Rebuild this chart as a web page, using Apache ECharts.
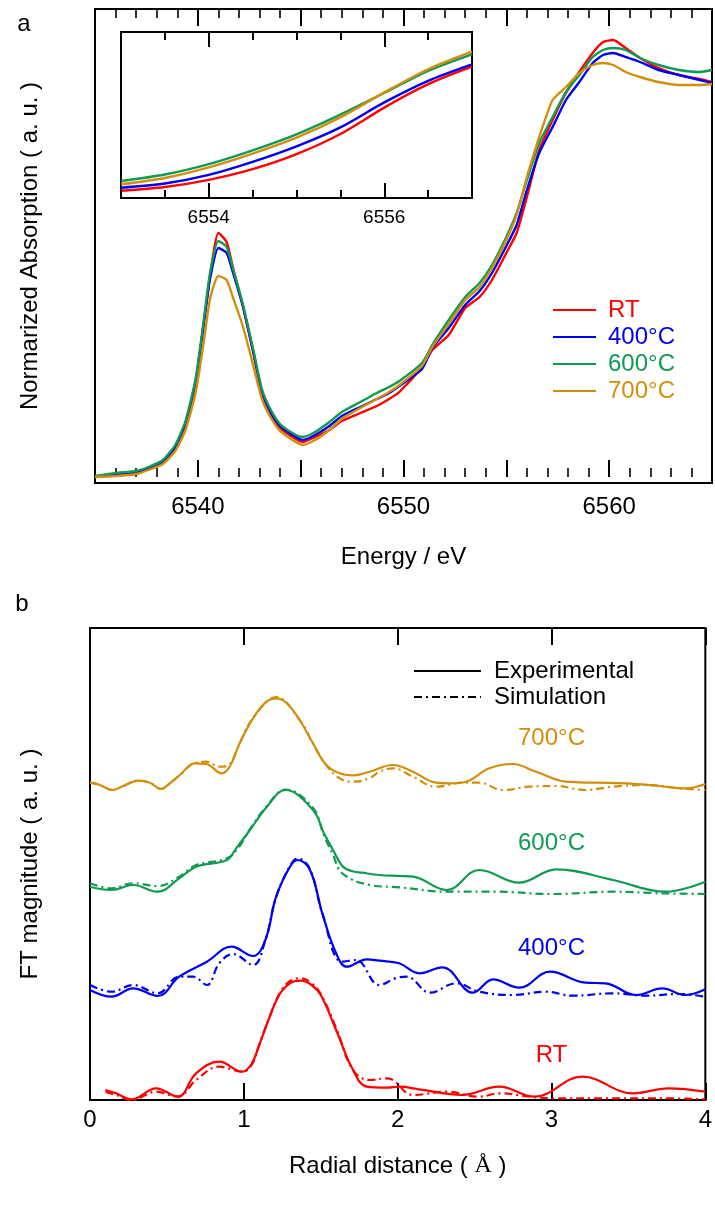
<!DOCTYPE html>
<html>
<head>
<meta charset="utf-8">
<script src="https://cdn.jsdelivr.net/npm/echarts@6/dist/echarts.min.js"></script>
<style>
  html, body { margin: 0; padding: 0; background: #fff; }
  #chart { width: 715px; height: 1207px; }
</style>
</head>
<body>
<div id="chart"></div>
<script>
// ---- Panel a: XANES spectra (normalized absorption vs. energy) ----
const TEMPS = ['RT', '400°C', '600°C', '700°C'];
const COLORS = ['#ff0000', '#0000f0', '#109a52', '#d28e0c'];

const energy = [6535, 6536, 6537, 6537.6, 6538.3, 6538.9, 6539.4, 6539.9, 6540.3, 6540.6,
  6541.0, 6541.4, 6541.7, 6542.2, 6542.7, 6543.1, 6543.5, 6544.0, 6544.6, 6545.1,
  6545.7, 6546.4, 6547.0, 6547.9, 6548.7, 6549.3, 6549.8, 6550.9, 6551.4, 6552.2,
  6553.0, 6553.7, 6554.3, 6555.0, 6555.5, 6556.0, 6556.6, 6557.25, 6557.9, 6558.55,
  6559.2, 6559.7, 6560.2, 6560.8, 6561.5, 6562.4, 6563.4, 6564.4, 6565];

const xanesRT = [0, 0.005, 0.0075, 0.02, 0.035, 0.0725, 0.13, 0.2375, 0.3875, 0.505,
  0.61, 0.5875, 0.525, 0.425, 0.31, 0.21, 0.16, 0.1225, 0.10, 0.0875,
  0.10, 0.1175, 0.14, 0.16, 0.1775, 0.195, 0.2125, 0.275, 0.3175, 0.355,
  0.4225, 0.45, 0.4925, 0.56, 0.61, 0.70, 0.8175, 0.8925, 0.96, 1.0125,
  1.06, 1.0875, 1.0925, 1.0725, 1.0475, 1.0225, 1.005, 0.995, 0.9875];
const xanes400 = [0, 0.0075, 0.0125, 0.0225, 0.0375, 0.075, 0.135, 0.2425, 0.3875, 0.4975,
  0.5725, 0.56, 0.5125, 0.425, 0.3125, 0.2175, 0.165, 0.1275, 0.105, 0.0925,
  0.105, 0.1275, 0.1525, 0.175, 0.195, 0.21, 0.2275, 0.27, 0.3225, 0.3725,
  0.43, 0.465, 0.51, 0.5775, 0.63, 0.7175, 0.81, 0.875, 0.9425, 0.9875,
  1.035, 1.055, 1.06, 1.05, 1.0375, 1.0175, 1.005, 0.9925, 0.985];
const xanes600 = [0.0025, 0.01, 0.015, 0.025, 0.0425, 0.08, 0.14, 0.2475, 0.3975, 0.5125,
  0.59, 0.575, 0.5225, 0.43, 0.3175, 0.2225, 0.1725, 0.1325, 0.11, 0.10,
  0.1125, 0.1375, 0.1625, 0.1875, 0.21, 0.225, 0.24, 0.285, 0.33, 0.3925,
  0.45, 0.485, 0.53, 0.60, 0.66, 0.7425, 0.835, 0.90, 0.9625, 1.005,
  1.05, 1.0675, 1.0725, 1.0675, 1.0475, 1.03, 1.0175, 1.0125, 1.0175];
const xanes700 = [0, 0.0025, 0.0075, 0.0175, 0.0325, 0.065, 0.1175, 0.2125, 0.3425, 0.4475,
  0.5025, 0.4925, 0.45, 0.375, 0.2775, 0.1975, 0.1525, 0.115, 0.0925, 0.08,
  0.0925, 0.1175, 0.145, 0.1725, 0.195, 0.2125, 0.23, 0.2775, 0.325, 0.3825,
  0.4425, 0.475, 0.5225, 0.5925, 0.655, 0.75, 0.85, 0.9425, 0.975, 1.01,
  1.03, 1.035, 1.03, 1.0125, 1.0, 0.9875, 0.98, 0.98, 0.9825];

// Inset: magnified view of the rising edge
const insetEnergy = [6553.0, 6553.5, 6554.0, 6554.5, 6555.0, 6555.5, 6556.0, 6556.5, 6557.0];
const insetRT  = [0.4195, 0.4344, 0.4631, 0.5062, 0.5668, 0.6483, 0.7549, 0.8493, 0.9199];
const inset400 = [0.4316, 0.4485, 0.4832, 0.5357, 0.5983, 0.6749, 0.7758, 0.8630, 0.9296];
const inset600 = [0.4586, 0.4848, 0.5268, 0.5825, 0.6471, 0.7266, 0.8138, 0.9030, 0.9700];
const inset700 = [0.4453, 0.4707, 0.5135, 0.5692, 0.6338, 0.7153, 0.8162, 0.9098, 0.9805];

// ---- Panel b: Fourier transforms, [radial distance (Å), magnitude] ----
const ftExpRT = [[0.10,0.10],[0.17,0.067],[0.27,0.007],[0.43,0.117],[0.57,0.033],[0.69,0.267],
  [0.84,0.383],[0.99,0.283],[1.05,0.36],[1.10,0.55],[1.16,0.80],[1.23,1.05],[1.30,1.167],
  [1.37,1.193],[1.44,1.15],[1.50,1.05],[1.60,0.70],[1.71,0.30],[1.80,0.133],[1.93,0.123],
  [2.01,0.133],[2.14,0.107],[2.42,0.05],[2.66,0.133],[2.89,0.033],[3.20,0.233],[3.53,0.067],
  [3.76,0.117],[4.0,0.083]];
const ftSimRT = [[0.10,0.08],[0.17,0.05],[0.27,0.0],[0.43,0.083],[0.57,0.033],[0.69,0.20],
  [0.84,0.333],[0.99,0.283],[1.05,0.35],[1.10,0.55],[1.16,0.80],[1.23,1.06],[1.30,1.19],
  [1.37,1.217],[1.44,1.17],[1.50,1.06],[1.60,0.72],[1.71,0.30],[1.82,0.20],[1.93,0.217],
  [1.97,0.20],[2.10,0.05],[2.32,0.083],[2.53,0.033],[2.66,0.067],[2.86,0.033],[3.0,0.017],
  [3.4,0.017],[3.72,0.017],[4.0,0.007]];
const ftExp400 = [[0,0.10],[0.14,0.033],[0.28,0.117],[0.44,0.04],[0.58,0.233],[0.76,0.383],
  [0.92,0.533],[1.06,0.44],[1.14,0.60],[1.21,1.033],[1.30,1.333],[1.35,1.40],[1.43,1.30],
  [1.51,0.867],[1.60,0.467],[1.67,0.333],[1.80,0.407],[1.88,0.393],[2.01,0.367],[2.14,0.267],
  [2.29,0.327],[2.49,0.073],[2.62,0.207],[2.79,0.123],[2.99,0.283],[3.22,0.173],[3.35,0.167],
  [3.55,0.05],[3.72,0.117],[3.87,0.05],[4.0,0.107]];
const ftSim400 = [[0,0.15],[0.14,0.083],[0.28,0.15],[0.44,0.067],[0.58,0.233],[0.67,0.233],
  [0.76,0.15],[0.84,0.367],[0.93,0.46],[1.06,0.35],[1.14,0.60],[1.21,1.03],[1.30,1.34],
  [1.35,1.417],[1.43,1.31],[1.51,0.87],[1.64,0.383],[1.73,0.40],[1.88,0.15],[1.99,0.22],
  [2.06,0.233],[2.21,0.073],[2.38,0.167],[2.53,0.083],[2.75,0.05],[2.96,0.083],[3.14,0.043],
  [3.40,0.067],[3.61,0.043],[3.83,0.06],[4.0,0.033]];
const ftExp600 = [[0,0.083],[0.14,0.05],[0.28,0.10],[0.44,0.033],[0.58,0.167],[0.69,0.283],
  [0.89,0.35],[0.95,0.467],[1.04,0.65],[1.15,0.883],[1.27,1.05],[1.45,0.85],[1.52,0.62],
  [1.58,0.45],[1.64,0.29],[1.70,0.24],[1.77,0.223],[1.88,0.20],[2.01,0.19],[2.10,0.183],
  [2.32,0.05],[2.53,0.25],[2.79,0.123],[3.03,0.257],[3.40,0.15],[3.74,0.033],[4.0,0.133]];
const ftSim600 = [[0,0.117],[0.14,0.067],[0.28,0.117],[0.44,0.09],[0.58,0.183],[0.69,0.30],
  [0.89,0.367],[0.97,0.483],[1.04,0.66],[1.15,0.89],[1.27,1.055],[1.45,0.87],[1.52,0.60],
  [1.58,0.40],[1.64,0.217],[1.82,0.10],[2.01,0.077],[2.32,0.033],[2.64,0.033],[3.01,0.01],
  [3.40,0.033],[3.72,0.017],[4.0,0.01]];
const ftExp700 = [[0,0.073],[0.065,0.05],[0.145,0.0],[0.216,0.04],[0.313,0.093],[0.389,0.073],
  [0.461,0.01],[0.519,0.067],[0.584,0.15],[0.681,0.267],[0.757,0.26],[0.855,0.167],[0.908,0.233],
  [0.973,0.467],[1.06,0.717],[1.147,0.883],[1.211,0.917],[1.276,0.873],[1.363,0.70],[1.449,0.467],
  [1.536,0.25],[1.622,0.167],[1.709,0.147],[1.817,0.183],[1.968,0.25],[2.098,0.183],[2.25,0.073],
  [2.336,0.067],[2.445,0.083],[2.596,0.217],[2.747,0.26],[2.899,0.183],[3.093,0.083],[3.288,0.073],
  [3.483,0.067],[3.699,0.04],[3.872,0.017],[4.0,0.06]];
const ftSim700 = [[0,0.073],[0.065,0.05],[0.145,0.0],[0.216,0.04],[0.313,0.093],[0.389,0.073],
  [0.461,0.01],[0.519,0.067],[0.584,0.15],[0.681,0.27],[0.757,0.283],[0.844,0.233],[0.908,0.26],
  [0.973,0.47],[1.06,0.72],[1.211,0.93],[1.363,0.70],[1.449,0.467],[1.536,0.25],[1.622,0.117],
  [1.709,0.083],[1.817,0.117],[1.882,0.183],[1.968,0.217],[2.098,0.133],[2.25,0.033],[2.423,0.073],
  [2.531,0.073],[2.682,0.0],[2.855,0.033],[3.03,0.04],[3.223,0.0],[3.396,0.033],[3.612,0.05],
  [3.828,0.017],[4.0,0.0]];

// vertical offset of each trace in the stacked FT plot, and where its tag sits
const ftOffset = [0, 1.0, 2.05, 3.1];
const ftTagR = 3.0;
const ftTagLift = [0.45, 0.517, 0.517, 0.517];

const xanes = [xanesRT, xanes400, xanes600, xanes700];
const insetVals = [insetRT, inset400, inset600, inset700];
const ftExp = [ftExpRT, ftExp400, ftExp600, ftExp700];
const ftSim = [ftSimRT, ftSim400, ftSim600, ftSim700];

const FONT = '"Liberation Sans", Arial, Helvetica, sans-serif';
const DASH_DOT = [8, 4, 2, 4];

const chart = echarts.init(document.getElementById('chart'), null, { renderer: 'canvas' });

const hiddenY = (grid, min, max, extra) => Object.assign({
  type: 'value', gridIndex: grid, min, max,
  axisLine: { show: false }, axisTick: { show: false }, axisLabel: { show: false },
  splitLine: { show: false }
}, extra || {});

const tickAxis = (grid, pos, min, max, interval, len, opts) => Object.assign({
  type: 'value', gridIndex: grid, position: pos, min, max, interval,
  axisLine: { show: false },
  axisTick: { show: true, inside: true, length: len, lineStyle: { color: '#000', width: 2 } },
  axisLabel: { show: false },
  splitLine: { show: false }
}, opts || {});

const series = [];

// panel a main curves
TEMPS.forEach((name, i) => {
  series.push({
    name, type: 'line', xAxisIndex: 0, yAxisIndex: 0,
    symbol: 'none', smooth: 0.2,
    lineStyle: { color: COLORS[i], width: 2.4 }, itemStyle: { color: COLORS[i] },
    data: energy.map((e, k) => [e, xanes[i][k]])
  });
});
// panel a inset curves
TEMPS.forEach((name, i) => {
  series.push({
    name, type: 'line', xAxisIndex: 2, yAxisIndex: 1, z: 6,
    symbol: 'none', smooth: 0.3,
    lineStyle: { color: COLORS[i], width: 2.4 }, itemStyle: { color: COLORS[i] },
    data: insetEnergy.map((e, k) => [e, insetVals[i][k]])
  });
});
// panel b stacked FT traces
TEMPS.forEach((name, i) => {
  series.push({
    name: name + ' simulation', type: 'line', xAxisIndex: 6, yAxisIndex: 2,
    symbol: 'none', smooth: 0.4,
    lineStyle: { color: COLORS[i], width: 2.2, type: DASH_DOT },
    data: ftSim[i].map(([r, m]) => [r, m + ftOffset[i]])
  });
  series.push({
    name: name + ' experimental', type: 'line', xAxisIndex: 6, yAxisIndex: 2,
    symbol: 'none', smooth: 0.4,
    lineStyle: { color: COLORS[i], width: 2.2 },
    data: ftExp[i].map(([r, m]) => [r, m + ftOffset[i]]),
    markPoint: {
      symbol: 'circle', symbolSize: 2, silent: true,
      itemStyle: { color: 'rgba(0,0,0,0)' },
      label: { show: true, position: 'inside', formatter: name, color: COLORS[i],
               fontSize: 24, fontFamily: FONT },
      data: [{ coord: [ftTagR, ftOffset[i] + ftTagLift[i]] }]
    }
  });
});
// legend keys for panel b line styles
series.push({ name: 'Experimental', type: 'line', xAxisIndex: 6, yAxisIndex: 2, symbol: 'none',
  lineStyle: { color: '#000', width: 2 }, itemStyle: { color: '#000' }, data: [] });
series.push({ name: 'Simulation', type: 'line', xAxisIndex: 6, yAxisIndex: 2, symbol: 'none',
  lineStyle: { color: '#000', width: 2, type: DASH_DOT }, itemStyle: { color: '#000' }, data: [] });

const insetZ = { z: 8 };

const option = {
  animation: false,
  backgroundColor: '#fff',
  textStyle: { fontFamily: FONT },
  grid: [
    { left: 95, top: 9, width: 618, height: 474, show: true, borderColor: '#000', borderWidth: 2,
      backgroundColor: 'rgba(0,0,0,0)' },
    { left: 121, top: 32, width: 351, height: 166, show: true, borderColor: '#000', borderWidth: 2,
      backgroundColor: '#fff', z: 3 },
    { left: 90, top: 628, width: 616.5, height: 472, show: true, borderColor: '#000', borderWidth: 2,
      backgroundColor: 'rgba(0,0,0,0)' }
  ],
  xAxis: [
    // 0: panel a bottom
    tickAxis(0, 'bottom', 6535, 6565, 5, 17, {
      minorTick: { show: true, splitNumber: 5, length: 9, lineStyle: { color: '#000', width: 1.6 } },
      axisLabel: { show: true, fontSize: 24, color: '#000', fontFamily: FONT, margin: 12,
                   formatter: v => (v % 10 === 0 ? String(v) : '') },
      name: 'Energy / eV', nameLocation: 'middle', nameGap: 62,
      nameTextStyle: { fontSize: 24, color: '#000', fontFamily: FONT }
    }),
    // 1: panel a top
    tickAxis(0, 'top', 6535, 6565, 5, 17, {
      minorTick: { show: true, splitNumber: 5, length: 9, lineStyle: { color: '#000', width: 1.6 } }
    }),
    // 2: inset bottom (short ticks + labels)
    tickAxis(1, 'bottom', 6553, 6557, 0.5, 8, Object.assign({
      axisLabel: { show: true, fontSize: 19, color: '#000', fontFamily: FONT, margin: 10,
                   formatter: v => (v === 6554 || v === 6556 ? String(v) : '') }
    }, insetZ)),
    // 3: inset bottom long ticks
    tickAxis(1, 'bottom', 6553, 6557, 0.5, 15, Object.assign({
      axisTick: { show: true, inside: true, length: 15, customValues: [6554, 6556],
                  lineStyle: { color: '#000', width: 2 } }
    }, insetZ)),
    // 4: inset top short ticks
    tickAxis(1, 'top', 6553, 6557, 0.5, 8, insetZ),
    // 5: inset top long ticks
    tickAxis(1, 'top', 6553, 6557, 0.5, 15, Object.assign({
      axisTick: { show: true, inside: true, length: 15, customValues: [6554, 6556],
                  lineStyle: { color: '#000', width: 2 } }
    }, insetZ)),
    // 6: panel b bottom
    tickAxis(2, 'bottom', 0, 4, 1, 17, {
      axisLabel: { show: true, fontSize: 24, color: '#000', fontFamily: FONT, margin: 8 },
      name: 'Radial distance ( {s|Å} )', nameLocation: 'middle', nameGap: 54,
      nameTextStyle: { fontSize: 24, color: '#000', fontFamily: FONT,
        rich: { s: { fontSize: 24, color: '#000', fontFamily: '"Liberation Serif", "Times New Roman", serif' } } }
    }),
    // 7: panel b top
    tickAxis(2, 'top', 0, 4, 1, 17)
  ],
  yAxis: [
    hiddenY(0, -0.015, 1.17, {
      name: 'Normarized Absorption ( a. u. )', nameLocation: 'middle', nameGap: 53,
      nameTextStyle: { fontSize: 24, color: '#000', fontFamily: FONT }
    }),
    hiddenY(1, 0.39, 1.06),
    hiddenY(2, 0, 4.72, {
      name: 'FT magnitude ( a. u. )', nameLocation: 'middle', nameGap: 48,
      nameTextStyle: { fontSize: 24, color: '#000', fontFamily: FONT }
    })
  ],
  legend: [
    {
      data: TEMPS.map((n, i) => ({ name: n, textStyle: { color: COLORS[i] } })),
      orient: 'vertical', left: 552, top: 298, padding: 0,
      itemWidth: 43, itemHeight: 14, itemGap: 3,
      selectedMode: false, itemStyle: { opacity: 0 },
      textStyle: { fontSize: 24, fontFamily: FONT, lineHeight: 24, padding: [0, 0, 0, 7] }
    },
    {
      data: ['Experimental', 'Simulation'],
      orient: 'vertical', left: 413, top: 659, padding: 0,
      itemWidth: 67, itemHeight: 14, itemGap: 2,
      selectedMode: false, itemStyle: { opacity: 0 },
      textStyle: { fontSize: 24, fontFamily: FONT, color: '#000', lineHeight: 24, padding: [0, 0, 0, 8] }
    }
  ],
  graphic: [
    { type: 'text', x: 24, y: 24, style: { text: 'a', font: '24px ' + FONT, fill: '#000',
      textAlign: 'center', textVerticalAlign: 'middle' } },
    { type: 'text', x: 22, y: 604, style: { text: 'b', font: '24px ' + FONT, fill: '#000',
      textAlign: 'center', textVerticalAlign: 'middle' } }
  ],
  series
};

chart.setOption(option);
</script>
</body>
</html>
